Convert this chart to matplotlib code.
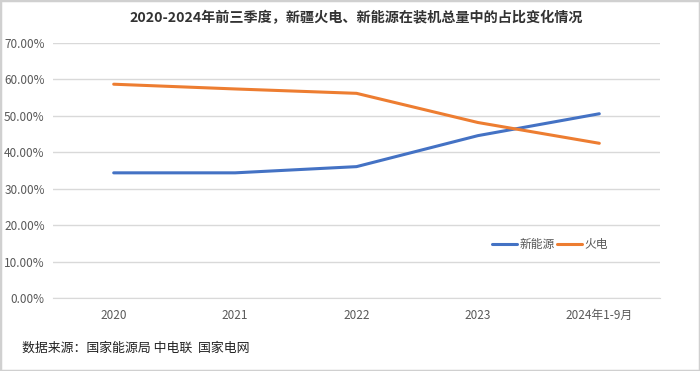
import matplotlib
matplotlib.use("Agg")
import matplotlib.pyplot as plt
from matplotlib.patches import Rectangle
from matplotlib.ticker import FuncFormatter, MultipleLocator

plt.rcParams['font.family'] = ['Noto Sans CJK SC', 'DejaVu Sans']

categories = ['2020', '2021', '2022', '2023', '2024年1-9月']
new_energy = [34.4, 34.4, 36.1, 44.6, 50.6]
thermal = [58.7, 57.4, 56.2, 48.2, 42.5]
series_names = ['新能源', '火电']
title = '2020-2024年前三季度，新疆火电、新能源在装机总量中的占比变化情况'
source = '数据来源：国家能源局 中电联  国家电网'

fig = plt.figure(figsize=(7.0, 3.71), dpi=100)
ax = fig.add_axes([53/700, 1-298.3/371, (660-53)/700, (298.3-43)/371])

x = list(range(len(categories)))
ax.plot(x, new_energy, color='#4472C4', lw=2.2, label=series_names[0], solid_capstyle='round')
ax.plot(x, thermal, color='#ED7D31', lw=2.2, label=series_names[1], solid_capstyle='round')

ax.set_xlim(-0.5, len(categories) - 0.5)
ax.set_ylim(0, 70)
ax.yaxis.set_major_locator(MultipleLocator(10))
ax.yaxis.set_major_formatter(FuncFormatter(lambda v, p: f'{v:.2f}%'))
ax.set_xticks(x)
ax.set_xticklabels(categories)
ax.grid(axis='y', color='#d9d9d9', lw=1)
ax.set_axisbelow(True)
for s in ['top', 'right', 'left']:
    ax.spines[s].set_visible(False)
ax.spines['bottom'].set_color('#d9d9d9')
ax.tick_params(axis='both', length=0, labelsize=8.5, labelcolor='#595959', pad=8)
ax.tick_params(axis='y', pad=6)

leg = fig.legend(loc='center', bbox_to_anchor=(550/700, 1-245/371), ncol=2, frameon=False,
                 fontsize=8.5, handlelength=2.1, handletextpad=0.2, columnspacing=0.2,
                 labelcolor='#595959')

fig.text(356/700, 1-18/371, title, ha='center', va='center', fontsize=10.2, fontweight='bold', color='#333333')
fig.text(22/700, 1-348/371, source, ha='left', va='center', fontsize=9.3, color='#222222')

fig.patches.append(Rectangle((0, 0), 1, 1, transform=fig.transFigure, fill=False,
                             edgecolor='#d0d0d0', lw=2.5))

fig.savefig('out.png', dpi=100)
